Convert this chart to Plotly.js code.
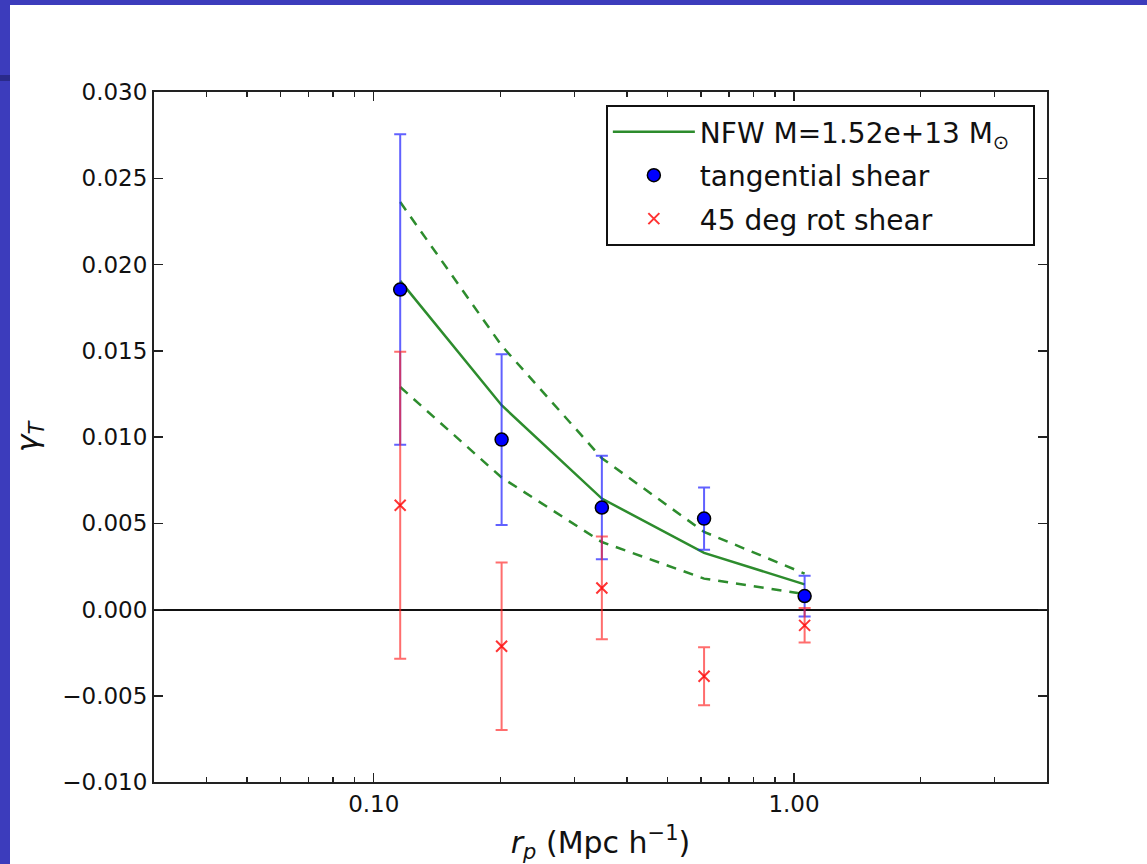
<!DOCTYPE html>
<html>
<head>
<meta charset="utf-8">
<script src="https://cdn.plot.ly/plotly-3.0.1.min.js"></script>
<style>
  html, body { margin: 0; padding: 0; width: 1147px; height: 864px; overflow: hidden; background: #3c3cbc; }
  #plot { position: absolute; left: 10px; top: 5px; width: 1137px; height: 859px; background: #fff; }
  #strip { position: absolute; left: 0; top: 75px; width: 10px; height: 6px; background: #2a2a8a; }
</style>
</head>
<body>
<div id="strip"></div>
<div id="plot"></div>
<script>
// Radii (Mpc h^-1)
const rp = [0.1156, 0.2015, 0.349, 0.611, 1.06];
// Tangential shear and errors
const tanShear = [0.01855, 0.00985, 0.00591, 0.00527, 0.00078];
const tanErr   = [0.00900, 0.00495, 0.00300, 0.00180, 0.00118];
// 45-degree rotated shear and errors
const rotShear = [0.00604, -0.00213, 0.00125, -0.00387, -0.00092];
const rotErr   = [0.00890, 0.00485, 0.00298, 0.00168, 0.00100];
// NFW model and its bounds
const nfw      = [0.01905, 0.01184, 0.00643, 0.00328, 0.00146];
const nfwUpper = [0.02362, 0.01530, 0.00877, 0.00450, 0.00208];
const nfwLower = [0.01290, 0.00765, 0.00391, 0.00179, 0.00090];

const xMajor = [0.1, 1];
const xMajorText = ['0.10', '1.00'];
const xMinor = [0.03,0.04,0.05,0.06,0.07,0.08,0.09,0.2,0.3,0.4,0.5,0.6,0.7,0.8,0.9,2,3,4];
const yTicks = [-0.010,-0.005,0,0.005,0.010,0.015,0.020,0.025,0.030];

const green = 'rgb(45,140,45)';
const font = 'DejaVu Sans, sans-serif';

const traces = [
  {x: rp, y: nfw, mode: 'lines', name: 'NFW M=1.52e+13 M<sub>⊙</sub>\u00a0\u00a0',
   line: {color: green, width: 2.5}, legendgroup: 'a'},
  {x: rp, y: nfwUpper, mode: 'lines', showlegend: false,
   line: {color: green, width: 2.5, dash: '10px,8px'}, legendgroup: 'a'},
  {x: rp, y: nfwLower, mode: 'lines', showlegend: false,
   line: {color: green, width: 2.5, dash: '10px,8px'}, legendgroup: 'a'},
  {x: rp, y: tanShear, mode: 'markers', name: 'tangential shear', legendgroup: 'b',
   marker: {color: '#0000ff', size: 13, line: {color: '#000', width: 1.5}},
   error_y: {type: 'data', array: tanErr, visible: true, color: 'rgba(30,30,255,0.7)', thickness: 2, width: 6}},
  {x: rp, y: rotShear, mode: 'markers', name: '45 deg rot shear', legendgroup: 'c',
   marker: {symbol: 'x-thin-open', color: 'rgba(255,0,0,0.8)', size: 11, line: {color: 'rgba(255,0,0,0.8)', width: 2}},
   error_y: {type: 'data', array: rotErr, visible: true, color: 'rgba(255,30,30,0.65)', thickness: 2, width: 6}}
];

const layout = {
  width: 1137, height: 859,
  paper_bgcolor: '#fff', plot_bgcolor: '#fff',
  margin: {l: 144, r: 100, t: 87, b: 82},
  font: {family: font, color: '#111', size: 23},
  showlegend: true,
  legend: {
    x: 0.506, y: 0.981, xanchor: 'left', yanchor: 'top',
    bordercolor: '#111', borderwidth: 2, bgcolor: '#fff',
    font: {family: font, size: 28, color: '#111'},
    tracegroupgap: 4, itemwidth: 82
  },
  xaxis: {
    type: 'log', range: [Math.log10(0.03), Math.log10(4.0)],
    tickmode: 'array', tickvals: xMajor, ticktext: xMajorText,
    ticks: 'inside', ticklen: 9, tickwidth: 1.5, tickcolor: '#222',
    minor: {tickmode: 'array', tickvals: xMinor, ticks: 'inside', ticklen: 5, tickwidth: 1.5, tickcolor: '#222', showgrid: false},
    showline: true, mirror: 'ticks', linecolor: '#222', linewidth: 2,
    showgrid: false, zeroline: false,
    tickfont: {size: 23},
    title: {text: '<i>r</i><sub><i>p</i></sub> (Mpc h<sup>−1</sup>)', font: {size: 30}, standoff: 16}
  },
  yaxis: {
    range: [-0.010, 0.030],
    tickmode: 'array', tickvals: yTicks, tickformat: '.3f',
    ticks: 'inside', ticklen: 9, tickwidth: 1.5, tickcolor: '#222',
    showline: true, mirror: 'ticks', linecolor: '#222', linewidth: 2,
    showgrid: false, zeroline: true, zerolinecolor: '#111', zerolinewidth: 2,
    tickfont: {size: 23},
    title: {text: '<i>γ</i><sub><i>T</i></sub>', font: {size: 30}, standoff: 20}
  }
};

Plotly.newPlot('plot', traces, layout, {displayModeBar: false, staticPlot: true});
</script>
</body>
</html>
